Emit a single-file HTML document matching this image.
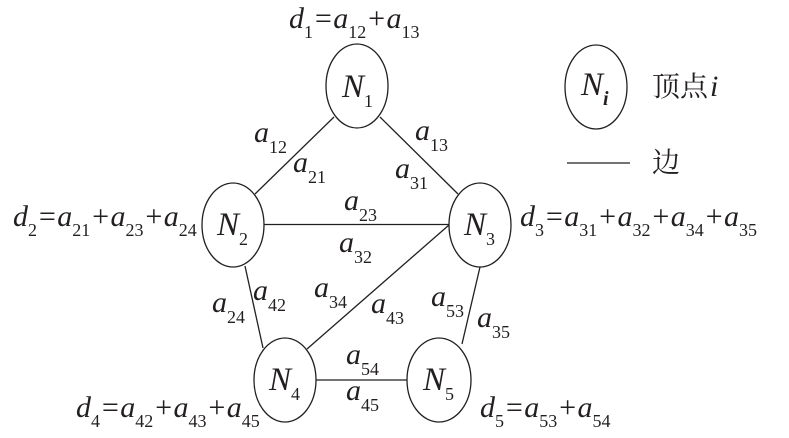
<!DOCTYPE html>
<html><head><meta charset="utf-8"><style>
html,body{margin:0;padding:0;background:#fff;}
svg{display:block;}
text{font-family:"Liberation Serif","Noto Serif CJK SC",serif;font-style:italic;font-size:30px;fill:#231f20;}
.s{font-style:normal;font-size:18px;}
.n{font-size:33px;}
.cjk{font-family:"Noto Serif CJK SC","Liberation Serif",serif;font-style:normal;font-size:28px;}
</style></head><body>
<svg width="789" height="438" viewBox="0 0 789 438" xmlns="http://www.w3.org/2000/svg">
<g fill="none" stroke="#231f20" stroke-width="1.3">
<ellipse cx="357" cy="86" rx="31" ry="42"/>
<ellipse cx="233" cy="225" rx="31" ry="42"/>
<ellipse cx="480" cy="225" rx="31" ry="42"/>
<ellipse cx="285" cy="380" rx="31" ry="42"/>
<ellipse cx="439" cy="380" rx="32" ry="42"/>
<ellipse cx="596" cy="87" rx="31" ry="42"/>
<line x1="334" y1="117" x2="255" y2="194"/>
<line x1="380" y1="117" x2="458" y2="194"/>
<line x1="264" y1="224.5" x2="449" y2="224.5"/>
<line x1="449" y1="225" x2="307" y2="349"/>
<line x1="245" y1="266" x2="263" y2="348"/>
<line x1="480" y1="267" x2="462" y2="344"/>
<line x1="316" y1="380" x2="407" y2="380"/>
<line x1="567" y1="163" x2="630" y2="163"/>
</g>
<!-- node labels -->
<text class="n" x="342" y="97">N<tspan class="s" dy="10">1</tspan></text>
<text class="n" x="217" y="235">N<tspan class="s" dy="10">2</tspan></text>
<text class="n" x="464" y="235">N<tspan class="s" dy="10">3</tspan></text>
<text class="n" x="269" y="390">N<tspan class="s" dy="10">4</tspan></text>
<text class="n" x="423" y="390">N<tspan class="s" dy="10">5</tspan></text>
<text class="n" x="581" y="95">N<tspan dy="10" style="font-size:20px;font-weight:bold">i</tspan></text>
<!-- legend -->
<text class="cjk" x="652" y="96">顶点</text>
<text x="710" y="96">i</text>
<text class="cjk" x="652" y="172">边</text>
<!-- degree labels -->
<text x="289" y="28">d<tspan class="s" dy="10">1</tspan><tspan dy="-10">=a</tspan><tspan class="s" dy="10">12</tspan><tspan dy="-10">+a</tspan><tspan class="s" dy="10">13</tspan></text>
<text x="13" y="226">d<tspan class="s" dy="10">2</tspan><tspan dy="-10">=a</tspan><tspan class="s" dy="10">21</tspan><tspan dy="-10">+a</tspan><tspan class="s" dy="10">23</tspan><tspan dy="-10">+a</tspan><tspan class="s" dy="10">24</tspan></text>
<text x="520" y="226">d<tspan class="s" dy="10">3</tspan><tspan dy="-10">=a</tspan><tspan class="s" dy="10">31</tspan><tspan dy="-10">+a</tspan><tspan class="s" dy="10">32</tspan><tspan dy="-10">+a</tspan><tspan class="s" dy="10">34</tspan><tspan dy="-10">+a</tspan><tspan class="s" dy="10">35</tspan></text>
<text x="76" y="417">d<tspan class="s" dy="10">4</tspan><tspan dy="-10">=a</tspan><tspan class="s" dy="10">42</tspan><tspan dy="-10">+a</tspan><tspan class="s" dy="10">43</tspan><tspan dy="-10">+a</tspan><tspan class="s" dy="10">45</tspan></text>
<text x="480" y="417">d<tspan class="s" dy="10">5</tspan><tspan dy="-10">=a</tspan><tspan class="s" dy="10">53</tspan><tspan dy="-10">+a</tspan><tspan class="s" dy="10">54</tspan></text>
<!-- edge labels -->
<text x="254" y="142">a<tspan class="s" dy="11">12</tspan></text>
<text x="293" y="172">a<tspan class="s" dy="11">21</tspan></text>
<text x="415" y="140">a<tspan class="s" dy="11">13</tspan></text>
<text x="395" y="178">a<tspan class="s" dy="11">31</tspan></text>
<text x="344" y="210">a<tspan class="s" dy="11">23</tspan></text>
<text x="339" y="252">a<tspan class="s" dy="11">32</tspan></text>
<text x="253" y="300">a<tspan class="s" dy="11">42</tspan></text>
<text x="212" y="312">a<tspan class="s" dy="11">24</tspan></text>
<text x="314" y="297">a<tspan class="s" dy="11">34</tspan></text>
<text x="371" y="313">a<tspan class="s" dy="11">43</tspan></text>
<text x="346" y="364">a<tspan class="s" dy="11">54</tspan></text>
<text x="346" y="400">a<tspan class="s" dy="11">45</tspan></text>
<text x="431" y="306">a<tspan class="s" dy="11">53</tspan></text>
<text x="477" y="327">a<tspan class="s" dy="11">35</tspan></text>
</svg>
</body></html>
